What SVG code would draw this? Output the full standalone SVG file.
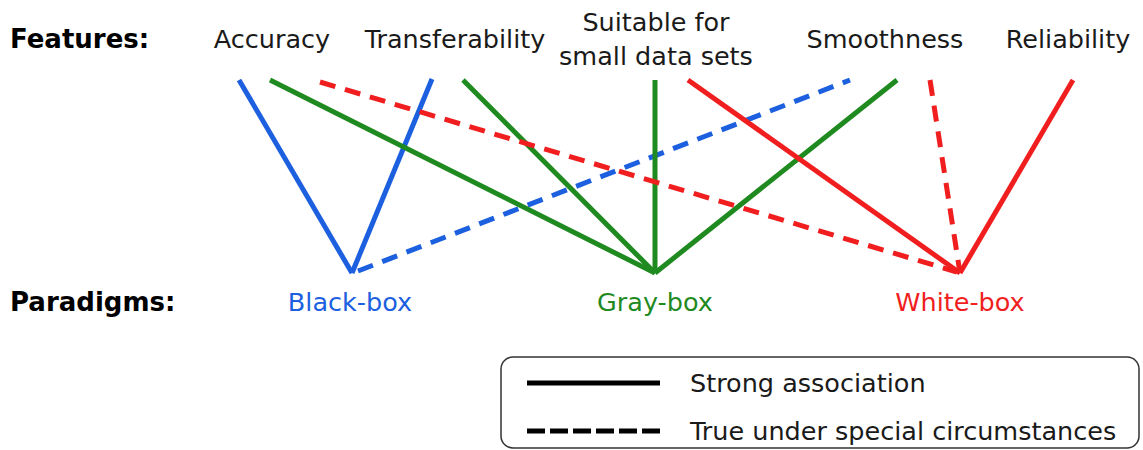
<svg xmlns="http://www.w3.org/2000/svg" width="1143" height="450" viewBox="0 0 1143 450">
  <style>
    text { font-family: "DejaVu Sans", Verdana, sans-serif; font-size: 25.5px; fill: #1a1a1a; }
    .head { font-weight: bold; font-size: 26px; fill: #000; }
    .ctr { text-anchor: middle; }
    .ln { stroke-width: 5; fill: none; stroke-linecap: butt; }
    .dash { stroke-dasharray: 16 10; }
    .blue { stroke: #1c5fdf; }
    .green { stroke: #1f8a1f; }
    .red { stroke: #f01e1e; }
  </style>
  <rect width="1143" height="450" fill="#fff"/>

  <!-- row headings -->
  <text class="head" x="10" y="48">Features:</text>
  <text class="head" x="10" y="311">Paradigms:</text>

  <!-- feature nodes -->
  <g id="accuracy"><text class="ctr" x="272" y="48">Accuracy</text></g>
  <g id="transferability"><text class="ctr" x="455" y="48">Transferability</text></g>
  <g id="small-data"><text class="ctr" x="656" y="31">Suitable for</text><text class="ctr" x="656" y="65">small data sets</text></g>
  <g id="smoothness"><text class="ctr" x="885" y="48">Smoothness</text></g>
  <g id="reliability"><text class="ctr" x="1068" y="48">Reliability</text></g>

  <!-- paradigm nodes -->
  <g id="black-box"><text class="ctr" x="350" y="311" style="fill:#1c5fdf">Black-box</text></g>
  <g id="gray-box"><text class="ctr" x="655" y="311" style="fill:#1f8a1f">Gray-box</text></g>
  <g id="white-box"><text class="ctr" x="960" y="311" style="fill:#f01e1e">White-box</text></g>

  <!-- associations -->
  <g id="connectors">
    <line class="ln blue" x1="239" y1="80" x2="352" y2="273"/>
    <line class="ln blue" x1="432" y1="79" x2="352" y2="273"/>
    <line class="ln blue dash" x1="358" y1="271" x2="850" y2="80"/>

    <line class="ln green" x1="270" y1="80" x2="655" y2="273"/>
    <line class="ln green" x1="463" y1="80" x2="655" y2="273"/>
    <line class="ln green" x1="655" y1="80" x2="655" y2="273"/>
    <line class="ln green" x1="897" y1="80" x2="655" y2="273"/>

    <line class="ln red dash" x1="320" y1="82" x2="957" y2="272"/>
    <line class="ln red" x1="688" y1="80" x2="960" y2="273"/>
    <line class="ln red dash" x1="930" y1="80" x2="960" y2="273"/>
    <line class="ln red" x1="1073" y1="80" x2="960" y2="273"/>
  </g>

  <!-- legend -->
  <g id="legend">
    <rect x="501" y="357" width="638" height="91" rx="12" ry="12" fill="#fff" stroke="#333" stroke-width="1.5"/>
    <line x1="527" y1="383" x2="660" y2="383" stroke="#000" stroke-width="5"/>
    <line x1="527" y1="431" x2="660" y2="431" stroke="#000" stroke-width="5" stroke-dasharray="18 5"/>
    <text x="690" y="392">Strong association</text>
    <text x="690" y="440">True under special circumstances</text>
  </g>
</svg>
